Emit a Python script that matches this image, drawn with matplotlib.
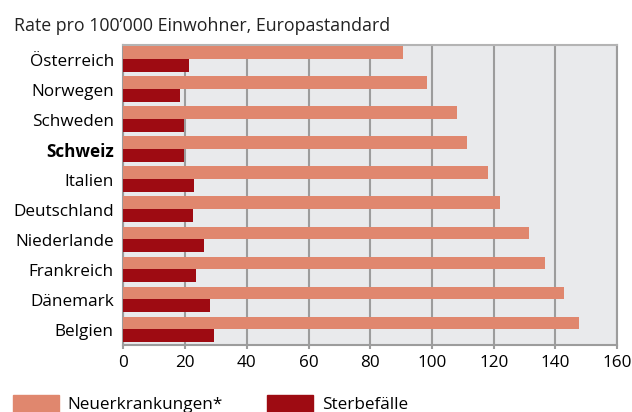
import numpy as np
import matplotlib
matplotlib.use("Agg")
import matplotlib.pyplot as plt
from matplotlib.patches import Patch

plt.rcParams['font.family'] = ['Open Sans', 'DejaVu Sans']

# rates per 100'000, European standard population
laender = ["Österreich", "Norwegen", "Schweden", "Schweiz", "Italien",
           "Deutschland", "Niederlande", "Frankreich", "Dänemark", "Belgien"]
neuerkrankungen = [90.6, 98.4, 108.1, 111.4, 118.2, 122.1, 131.5, 136.7, 142.8, 147.7]
sterbefaelle = [21.2, 18.3, 19.6, 19.6, 22.9, 22.5, 26.1, 23.5, 28.0, 29.3]

col_neu = "#e0876e"
col_tod = "#9e0b12"
col_grid = "#9c9c9c"

fig = plt.figure(figsize=(6.32, 4.12), dpi=100)
ax = fig.add_axes([0.1954, 0.1626, 0.7809, 0.7282])
ax.set_facecolor("#e9eaec")

y = np.arange(len(laender))
h = 0.42
ax.barh(y - h / 2 - 0.03, neuerkrankungen, height=h, color=col_neu, zorder=3)
ax.barh(y + h / 2 - 0.03, sterbefaelle, height=h, color=col_tod, zorder=3)

ax.set_xlim(0, 160)
ax.set_ylim(len(laender) - 0.5, -0.5)
ax.set_xticks(np.arange(0, 161, 20))
ax.set_yticks(y)
ax.set_yticklabels(laender, fontsize=12.3)
ax.get_yticklabels()[laender.index("Schweiz")].set_fontweight("bold")
ax.tick_params(axis='y', length=0, pad=7)
ax.tick_params(axis='x', labelsize=12.3, length=3, width=1.5, color=col_grid, pad=4)
ax.grid(axis='x', color=col_grid, linewidth=1.5, zorder=1)
for s in ax.spines.values():
    s.set_color(col_grid)
    s.set_linewidth(1.5)
ax.spines['top'].set_color("#b4b4b4")

fig.text(0.022, 0.938, "Rate pro 100’000 Einwohner, Europastandard", fontsize=12.8,
         va='center', ha='left', color="#222222")

handles = [Patch(color=col_neu, label="Neuerkrankungen*"),
           Patch(color=col_tod, label="Sterbefälle")]
fig.legend(handles=handles, loc='lower left', bbox_to_anchor=(-0.004, -0.04),
           ncol=2, frameon=False, fontsize=12.3, handlelength=2.7, handleheight=1.2,
           handletextpad=0.5, columnspacing=2.6)

fig.savefig("out.png", dpi=100)
